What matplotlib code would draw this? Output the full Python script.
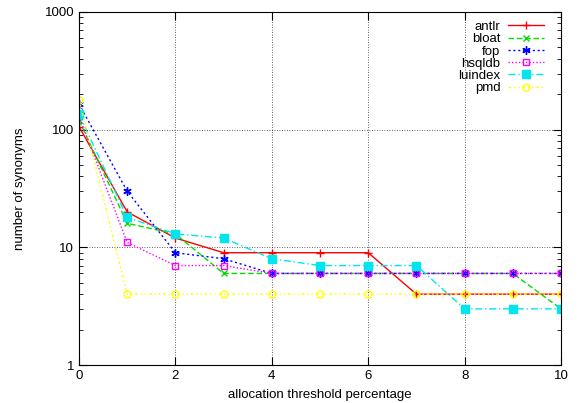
import numpy as np
import matplotlib.pyplot as plt

plt.rcParams['font.family'] = ['Liberation Sans', 'DejaVu Sans']
plt.rcParams['font.size'] = 9.5

thresholds = [0, 1, 2, 3, 4, 5, 6, 7, 8, 9, 10]
antlr = [106, 20, 12, 9, 9, 9, 9, 4, 4, 4, 4]
bloat = [120, 16, 13, 6, 6, 6, 6, 6, 6, 6, 3]
fop = [165, 30, 9, 8, 6, 6, 6, 6, 6, 6, 6]
hsqldb = [130, 11, 7, 7, 6, 6, 6, 6, 6, 6, 6]
luindex = [135, 18, 13, 12, 8, 7, 7, 7, 3, 3, 3]
pmd = [180, 4, 4, 4, 4, 4, 4, 4, 4, 4, 4]

series = [
    ("antlr", antlr, dict(color="#ff0000", ls="-", marker="+", ms=6, mfc="#ff0000")),
    ("bloat", bloat, dict(color="#00dd00", ls=(0, (4, 2)), marker="x", ms=5, mfc="#00dd00")),
    ("fop", fop, dict(color="#0000ff", ls=(0, (1.5, 2)), marker=(6, 2, 0), ms=6, mfc="#0000ff")),
    ("hsqldb", hsqldb, dict(color="#ff00ff", ls=(0, (1, 1.5)), marker="s", ms=5, mfc="none")),
    ("luindex", luindex, dict(color="#00e5ee", ls=(0, (5, 2, 1, 2)), marker="s", ms=6, mfc="#00e5ee")),
    ("pmd", pmd, dict(color="#ffff00", ls=(0, (2, 2, 1, 2, 1, 2)), marker="o", ms=5, mfc="none")),
]

fig = plt.figure(figsize=(5.78, 4.03), dpi=100)
ax = fig.add_axes([79 / 578, 1 - 365 / 403, (561 - 79) / 578, (365 - 12) / 403])

for name, vals, style in series:
    ax.plot(thresholds, vals, label=name, lw=1, mew=1, **style)

ax.set_yscale("log")
ax.set_ylim(1, 1000)
ax.set_xlim(0, 10)
ax.set_xticks([0, 2, 4, 6, 8, 10])
ax.set_yticks([1, 10, 100, 1000])
ax.set_yticklabels(["1", "10", "100", "1000"])
ax.tick_params(which="both", direction="in", top=True, right=True)
ax.tick_params(which="major", length=6)
ax.tick_params(which="minor", length=3)
ax.grid(True, which="major", color="black", ls=(0, (1, 2)), lw=0.6, alpha=0.8)

ax.set_xlabel("allocation threshold percentage", labelpad=5)
ax.set_ylabel("number of synonyms", labelpad=13)

ax.legend(loc="upper right", bbox_to_anchor=(0.965, 0.975), frameon=False,
          markerfirst=False, handlelength=2.75, labelspacing=0.0,
          borderaxespad=0, borderpad=0, handletextpad=0.55)

fig.savefig("out.png", dpi=100)
